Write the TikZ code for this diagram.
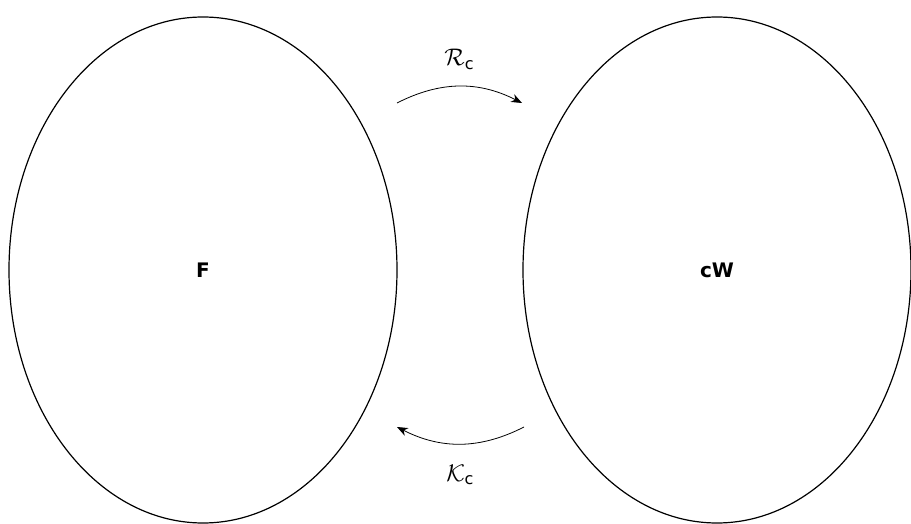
\documentclass[tikz,border=0pt]{standalone}
\usepackage{amsmath}
\usepackage{fontspec}
\setmainfont{DejaVu Sans}
\usetikzlibrary{positioning,arrows.meta,shapes.geometric}

\begin{document}
\begin{tikzpicture}[
  x=0.5pt, y=-0.5pt,
  >={Stealth[length=1.9mm,width=1.5mm,inset=0.6mm]},
  set/.style={draw, semithick, ellipse, minimum width=194pt, minimum height=253pt, inner sep=0pt, font=\bfseries},
  map/.style={->, thin},
  lab/.style={font=\large}
]
\useasboundingbox (0,0) rectangle (911,524);

% the two sets
\node[set] (F) at (203,270) {F};
\node[set] (cW) at (717,270) {cW};

% ends of the maps
\coordinate (Rs) at (397,103);
\coordinate (Re) at (522,103);
\coordinate (Ks) at (524,427);
\coordinate (Ke) at (397,427);

\draw[map] (Rs) to[bend left=27] node[midway, above=5pt, lab] {$\mathcal{R}_{\text{c}}$} (Re);
\draw[map] (Ks) to[bend left=27] node[midway, below=7pt, lab] {$\mathcal{K}_{\text{c}}$} (Ke);
\end{tikzpicture}
\end{document}
